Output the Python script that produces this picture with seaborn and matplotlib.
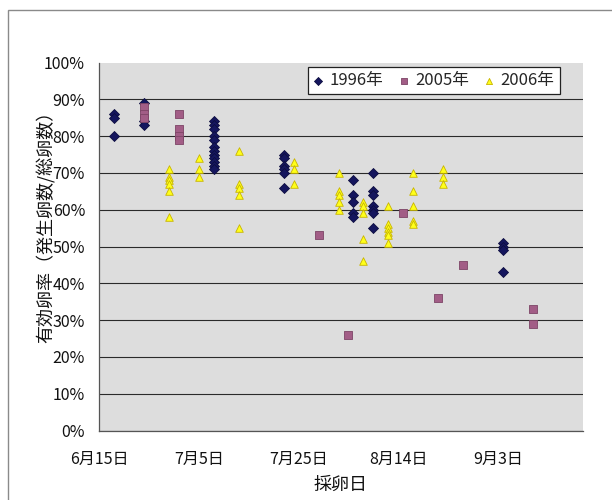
import matplotlib
matplotlib.use("Agg")
import matplotlib.pyplot as plt
import matplotlib.dates as mdates
from matplotlib.patches import Rectangle
from matplotlib.ticker import FixedLocator, FuncFormatter
import seaborn as sns
import pandas as pd

# ---- data ----
dates_1996 = (["06-18"] * 3 + ["06-24"] * 3 + ["07-08"] * 12 + ["07-22"] * 6 +
              ["08-05"] * 5 + ["08-09"] * 7 + ["09-04"] * 4)
vals_1996 = [86, 85, 80,
             89, 84, 83,
             84, 83, 82, 80, 79, 77, 76, 75, 74, 73, 72, 71,
             75, 74, 72, 71, 70, 66,
             68, 64, 62, 59, 58,
             70, 65, 64, 61, 60, 59, 55,
             51, 50, 49, 43]

dates_2005 = (["06-24"] * 3 + ["07-01"] * 4 + ["07-29", "08-04", "08-15", "08-22", "08-27"] +
              ["09-10"] * 2)
vals_2005 = [88, 86, 85,
             86, 82, 80, 79,
             53, 26, 59, 36, 45,
             33, 29]

dates_2006 = (["06-29"] * 6 + ["07-05"] * 3 + ["07-13"] * 5 + ["07-24"] * 3 +
              ["08-02"] * 5 + ["08-07"] * 5 + ["08-12"] * 6 + ["08-17"] * 5 + ["08-23"] * 3)
vals_2006 = [71, 69, 68, 67, 65, 58,
             74, 71, 69,
             76, 67, 66, 64, 55,
             73, 71, 67,
             70, 65, 64, 62, 60,
             62, 61, 59, 52, 46,
             61, 56, 55, 54, 53, 51,
             70, 65, 61, 57, 56,
             71, 69, 67]

series_names = ["1996年", "2005年", "2006年"]
x_tick_dates = ["06-15", "07-05", "07-25", "08-14", "09-03"]
x_range = ["06-15", "09-20"]
y_ticks = [0, 10, 20, 30, 40, 50, 60, 70, 80, 90, 100]

xlabel = "採卵日"
ylabel = "有効卵率（発生卵数/総卵数）"


def to_date(s):
    return pd.Timestamp("2006-" + s)


frames = []
for name, ds, vs in zip(series_names, [dates_1996, dates_2005, dates_2006],
                        [vals_1996, vals_2005, vals_2006]):
    frames.append(pd.DataFrame({"date": [to_date(d) for d in ds],
                                "value": vs, "series": name}))
df = pd.concat(frames, ignore_index=True)

# ---- style ----
sns.set_style("white")
plt.rcParams["font.family"] = ["Noto Sans CJK JP", "DejaVu Sans"]

fig = plt.figure(figsize=(6.12, 5.0), dpi=100)
fig.patch.set_facecolor("white")
ax = fig.add_axes([99 / 612, 1 - 430.5 / 500, (583 - 99) / 612, (430.5 - 62.5) / 500])
ax.set_facecolor("#dddddd")

palette = {"1996年": "#15165e", "2005年": "#a25d86", "2006年": "#ffff1a"}
markers = {"1996年": "D", "2005年": "s", "2006年": "^"}
edges = {"1996年": "#0d0d40", "2005年": "#7d4466", "2006年": "#c8b400"}
sizes = {"1996年": 26, "2005年": 30, "2006年": 30}

for name in series_names:
    sub = df[df["series"] == name]
    sns.scatterplot(data=sub, x="date", y="value", ax=ax, color=palette[name],
                    marker=markers[name], s=sizes[name],
                    edgecolor=edges[name], linewidth=0.6, label=name, zorder=3)

ax.set_ylim(0, 100)
ax.set_xlim(to_date(x_range[0]), to_date(x_range[1]))

ax.yaxis.set_major_locator(FixedLocator(y_ticks))
ax.yaxis.set_major_formatter(FuncFormatter(lambda v, p: f"{int(v)}%"))
xt = [mdates.date2num(to_date(d)) for d in x_tick_dates]
ax.xaxis.set_major_locator(FixedLocator(xt))
ax.xaxis.set_major_formatter(FuncFormatter(
    lambda v, p: f"{mdates.num2date(v).month}月{mdates.num2date(v).day}日"))

ax.yaxis.grid(True, color="#2a2a2a", linewidth=0.8, zorder=1)
ax.set_axisbelow(True)
ax.get_ygridlines()[-1].set_visible(False)

for s in ["top", "right"]:
    ax.spines[s].set_visible(False)
for s in ["left", "bottom"]:
    ax.spines[s].set_color("#555555")
    ax.spines[s].set_linewidth(0.9)

ax.tick_params(axis="both", direction="in", length=4, width=0.8, color="#555555",
               labelsize=11.5, labelcolor="#111111")
ax.tick_params(axis="y", pad=10)
ax.tick_params(axis="x", pad=15)

ax.set_xlabel(xlabel, fontsize=13, color="#111111")
ax.set_ylabel(ylabel, fontsize=13, color="#111111")
ax.xaxis.set_label_coords(0.5, -0.122)
ax.yaxis.set_label_coords(-0.09, 0.565)

leg = ax.legend(ncol=3, loc="upper left", bbox_to_anchor=(0.432, 0.988),
                borderaxespad=0, frameon=True, fancybox=False, fontsize=12,
                handlelength=0.6, handletextpad=0.4, columnspacing=0.9,
                borderpad=0.3, markerscale=0.8)
leg.get_frame().set_edgecolor("#222222")
leg.get_frame().set_linewidth(0.9)
leg.get_frame().set_facecolor("white")
leg.get_frame().set_alpha(1)

# outer chart border
fig.patches.append(Rectangle((8 / 612, -0.05), 1.1, 1 - 10 / 500 + 0.05,
                             transform=fig.transFigure, fill=False,
                             edgecolor="#8a8a8a", linewidth=1.0))

fig.savefig("out.png", dpi=100)
